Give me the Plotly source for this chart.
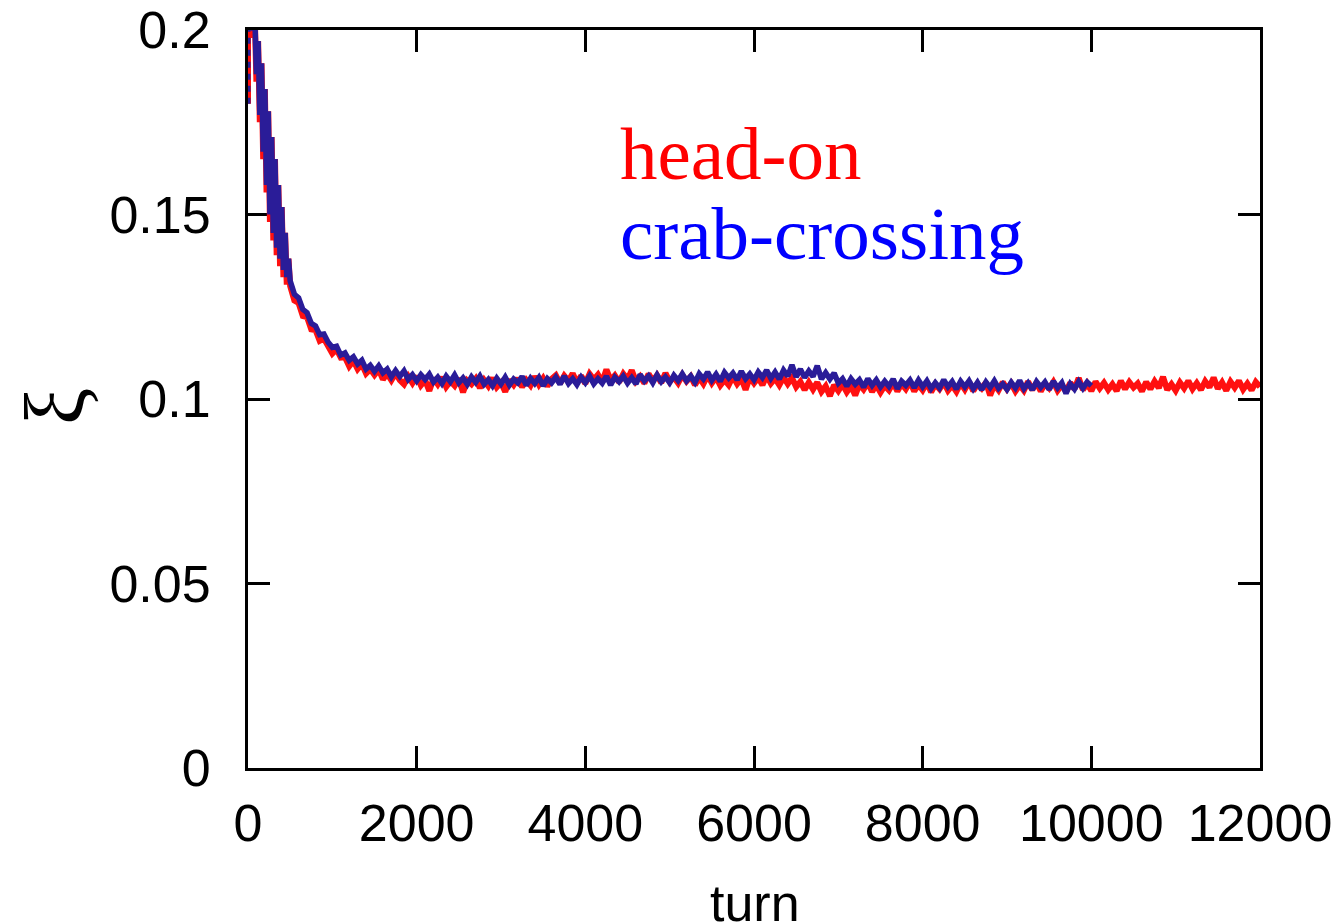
import plotly.graph_objects as go

# ---------------- data ----------------
# early, fast-oscillating descent (turns, values) for both runs
early_turns = [0, 0, 60, 80, 100, 120, 140, 160, 180, 200, 220, 240, 260, 280, 300,
               320, 340, 360, 380, 400, 420, 440, 460, 480]
headon_early = [0.180, 0.205, 0.198, 0.204, 0.186, 0.197, 0.175, 0.191, 0.165, 0.184,
                0.156, 0.178, 0.148, 0.171, 0.143, 0.165, 0.139, 0.158, 0.136, 0.152,
                0.133, 0.145, 0.131, 0.138]
crab_early = [0.205, 0.205, 0.200, 0.204, 0.188, 0.197, 0.177, 0.191, 0.167, 0.184,
              0.158, 0.178, 0.150, 0.171, 0.145, 0.165, 0.141, 0.158, 0.138, 0.152,
              0.135, 0.145, 0.133, 0.138]
crab_start_turns = [0, 0]
crab_start_vals = [0.180, 0.200]

# regular sampling (every 50 turns, starting at turn 500)
main_start = 500
main_step = 50
headon_main = [
    0.1306, 0.1267, 0.1260, 0.1225, 0.1222, 0.1189, 0.1187, 0.1158, 0.1164, 0.1139,
    0.1123, 0.1135, 0.1112, 0.1113, 0.1089, 0.1104, 0.1081, 0.1095, 0.1069, 0.1081,
    0.1065, 0.1080, 0.1053, 0.1069, 0.1051, 0.1070, 0.1051, 0.1040, 0.1061, 0.1043,
    0.1062, 0.1037, 0.1051, 0.1022, 0.1056, 0.1040, 0.1059, 0.1033, 0.1048, 0.1036,
    0.1056, 0.1018, 0.1050, 0.1040, 0.1055, 0.1030, 0.1051, 0.1035, 0.1057, 0.1032,
    0.1044, 0.1020, 0.1052, 0.1038, 0.1056, 0.1033, 0.1051, 0.1037, 0.1061, 0.1039,
    0.1056, 0.1035, 0.1054, 0.1064, 0.1042, 0.1063, 0.1049, 0.1069, 0.1044, 0.1063,
    0.1042, 0.1068, 0.1053, 0.1066, 0.1046, 0.1080, 0.1051, 0.1064, 0.1046, 0.1068,
    0.1053, 0.1078, 0.1048, 0.1061, 0.1043, 0.1068, 0.1050, 0.1064, 0.1044, 0.1070,
    0.1047, 0.1059, 0.1043, 0.1065, 0.1048, 0.1061, 0.1038, 0.1058, 0.1041, 0.1064,
    0.1043, 0.1059, 0.1037, 0.1052, 0.1038, 0.1061, 0.1041, 0.1056, 0.1025, 0.1059,
    0.1043, 0.1058, 0.1038, 0.1063, 0.1042, 0.1056, 0.1038, 0.1059, 0.1041, 0.1057,
    0.1033, 0.1047, 0.1025, 0.1045, 0.1026, 0.1045, 0.1020, 0.1035, 0.1008, 0.1038,
    0.1022, 0.1040, 0.1019, 0.1035, 0.1010, 0.1040, 0.1026, 0.1044, 0.1020, 0.1038,
    0.1018, 0.1036, 0.1024, 0.1044, 0.1021, 0.1041, 0.1027, 0.1047, 0.1021, 0.1039,
    0.1024, 0.1044, 0.1019, 0.1040, 0.1027, 0.1045, 0.1023, 0.1037, 0.1020, 0.1043,
    0.1026, 0.1047, 0.1022, 0.1041, 0.1029, 0.1045, 0.1010, 0.1039, 0.1024, 0.1046,
    0.1027, 0.1042, 0.1021, 0.1038, 0.1023, 0.1047, 0.1025, 0.1044, 0.1021, 0.1041,
    0.1029, 0.1046, 0.1023, 0.1038, 0.1020, 0.1044, 0.1027, 0.1057, 0.1025, 0.1042,
    0.1022, 0.1047, 0.1029, 0.1044, 0.1025, 0.1040, 0.1022, 0.1049, 0.1027, 0.1046,
    0.1031, 0.1042, 0.1021, 0.1046, 0.1027, 0.1048, 0.1030, 0.1060, 0.1025, 0.1040,
    0.1023, 0.1045, 0.1029, 0.1049, 0.1027, 0.1043, 0.1025, 0.1048, 0.1032, 0.1058,
    0.1028, 0.1045, 0.1023, 0.1047, 0.1031, 0.1049, 0.1026, 0.1042, 0.1024, 0.1046,
    0.1033,
]
crab_main = [
    0.1320, 0.1284, 0.1274, 0.1243, 0.1234, 0.1205, 0.1198, 0.1174, 0.1176, 0.1154,
    0.1140, 0.1143, 0.1119, 0.1125, 0.1105, 0.1114, 0.1095, 0.1105, 0.1081, 0.1091,
    0.1075, 0.1090, 0.1071, 0.1081, 0.1060, 0.1077, 0.1061, 0.1076, 0.1053, 0.1066,
    0.1049, 0.1066, 0.1053, 0.1067, 0.1046, 0.1059, 0.1042, 0.1062, 0.1047, 0.1065,
    0.1044, 0.1057, 0.1040, 0.1060, 0.1045, 0.1062, 0.1040, 0.1053, 0.1036, 0.1056,
    0.1041, 0.1059, 0.1038, 0.1054, 0.1044, 0.1061, 0.1037, 0.1056, 0.1042, 0.1058,
    0.1036, 0.1055, 0.1044, 0.1059, 0.1040, 0.1062, 0.1042, 0.1055, 0.1039, 0.1059,
    0.1044, 0.1062, 0.1041, 0.1055, 0.1043, 0.1062, 0.1038, 0.1059, 0.1047, 0.1062,
    0.1043, 0.1058, 0.1041, 0.1066, 0.1049, 0.1062, 0.1044, 0.1065, 0.1047, 0.1060,
    0.1044, 0.1064, 0.1050, 0.1068, 0.1049, 0.1062, 0.1045, 0.1068, 0.1054, 0.1073,
    0.1051, 0.1067, 0.1048, 0.1072, 0.1057, 0.1070, 0.1052, 0.1075, 0.1055, 0.1068,
    0.1052, 0.1073, 0.1058, 0.1078, 0.1056, 0.1073, 0.1054, 0.1078, 0.1062, 0.1092,
    0.1060, 0.1081, 0.1058, 0.1076, 0.1061, 0.1090, 0.1054, 0.1071, 0.1054, 0.1070,
    0.1043, 0.1055, 0.1035, 0.1055, 0.1040, 0.1052, 0.1032, 0.1055, 0.1037, 0.1052,
    0.1033, 0.1048, 0.1034, 0.1054, 0.1028, 0.1048, 0.1037, 0.1051, 0.1031, 0.1051,
    0.1033, 0.1049, 0.1028, 0.1044, 0.1030, 0.1052, 0.1033, 0.1047, 0.1027, 0.1048,
    0.1033, 0.1049, 0.1028, 0.1045, 0.1025, 0.1046, 0.1031, 0.1049, 0.1029, 0.1041,
    0.1026, 0.1045, 0.1030, 0.1050, 0.1028, 0.1043, 0.1025, 0.1047, 0.1032, 0.1046,
    0.1026, 0.1048, 0.1030, 0.1044, 0.1015, 0.1041, 0.1027, 0.1047, 0.1029, 0.1046,
    0.1036,
]

x_tickvals = [0, 2000, 4000, 6000, 8000, 10000, 12000]
x_ticktext = ["0", "2000", "4000", "6000", "8000", "10000", "12000"]
y_tickvals = [0, 0.05, 0.1, 0.15, 0.2]
y_ticktext = ["0", "0.05", "0.1", "0.15", "0.2"]

series_names = ["head-on", "crab-crossing"]
RED = "#ff1010"
BLUE = "#2a1c98"

headon_turns = early_turns + [main_start + main_step * i for i in range(len(headon_main))]
crab_turns = early_turns + [main_start + main_step * i for i in range(len(crab_main))]

fig = go.Figure()
fig.add_trace(go.Scatter(x=headon_turns, y=headon_early + headon_main, mode="lines",
                         line=dict(color=RED, width=6), name=series_names[0],
                         showlegend=False))
fig.add_trace(go.Scatter(x=crab_start_turns, y=crab_start_vals, mode="lines",
                         line=dict(color=BLUE, width=5, dash="6px,6px"),
                         showlegend=False))
fig.add_trace(go.Scatter(x=crab_turns, y=crab_early + crab_main, mode="lines",
                         line=dict(color=BLUE, width=5.5), name=series_names[1],
                         showlegend=False))

axis_common = dict(
    showline=True, linecolor="black", linewidth=3, mirror="allticks",
    ticks="inside", ticklen=22, tickwidth=2.5, tickcolor="black",
    showgrid=False, zeroline=False, layer="below traces", automargin=False,
    tickfont=dict(family="Liberation Sans", size=52, color="black"),
    tickmode="array",
)
fig.update_xaxes(range=[0, 12000], tickvals=x_tickvals, ticktext=x_ticktext,
                 ticklabelstandoff=8, **axis_common)
fig.update_yaxes(range=[0, 0.2], tickvals=y_tickvals, ticktext=y_ticktext,
                 ticklabelstandoff=24, **axis_common)

fig.update_layout(
    width=1340, height=922,
    margin=dict(l=248, r=80, t=30, b=154),
    paper_bgcolor="white", plot_bgcolor="white",
    showlegend=False,
    annotations=[
        dict(text=series_names[0], xref="paper", yref="paper", x=0.3656, y=0.8333,
             xanchor="left", yanchor="middle", showarrow=False,
             font=dict(family="Liberation Serif", size=75, color="#ff0000")),
        dict(text=series_names[1], xref="paper", yref="paper", x=0.3656, y=0.7236,
             xanchor="left", yanchor="middle", showarrow=False,
             font=dict(family="Liberation Serif", size=75, color="#0000ff")),
        dict(text="turn", xref="paper", yref="paper", x=0.501, y=-0.183,
             xanchor="center", yanchor="middle", showarrow=False,
             font=dict(family="Liberation Sans", size=52, color="black")),
        dict(text="ξ", xref="paper", yref="paper", x=-0.19, y=0.49,
             xanchor="center", yanchor="middle", showarrow=False, textangle=-90,
             font=dict(family="Liberation Serif", size=84, color="black")),
    ],
)

fig.write_html("out.html")
